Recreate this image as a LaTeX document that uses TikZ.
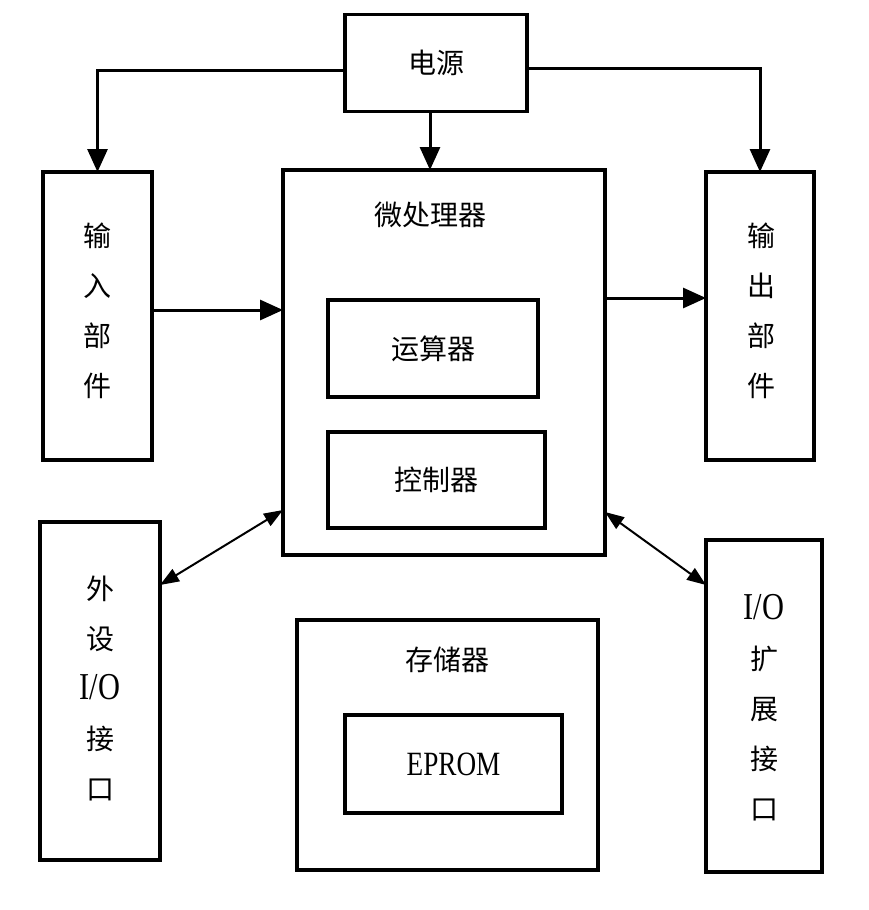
\documentclass[tikz,border=0pt]{standalone}
\usepackage{fontspec}
\setmainfont{Liberation Serif}
\newfontfamily\cjk{Noto Sans CJK SC}
\newfontfamily\lat[FakeStretch=0.8]{Liberation Serif}
\usetikzlibrary{arrows.meta}
\begin{document}
\begin{tikzpicture}[x=1pt,y=-1pt,
  box/.style={draw, line width=3.5pt, inner sep=0pt, outer sep=0pt},
  lbl/.style={font=\cjk\fontsize{28}{50}\selectfont, align=center},
  arr/.style={line width=3pt, -{Triangle[length=23pt,width=20pt]}},
  darr/.style={line width=2pt, {Triangle[length=19pt,width=14pt]}-{Triangle[length=19pt,width=14pt]}}]
\useasboundingbox (0,0) rectangle (868,910);
% boxes
\node[box, minimum width=182pt, minimum height=97pt] (power) at (436,63) {};
\node[lbl] (powerl) at (power.center) {电源};
\node[box, minimum width=109pt, minimum height=288pt] (in) at (97.5,316) {};
\node[lbl] (inl) at (97.5,311) {输\\入\\部\\件};
\node[box, minimum width=322pt, minimum height=385pt] (cpu) at (444,362.5) {};
\node[lbl] (cpul) at (430,215) {微处理器};
\node[box, minimum width=210pt, minimum height=97pt] (alu) at (433,348.5) {};
\node[lbl] (alul) at (alu.center) {运算器};
\node[box, minimum width=217pt, minimum height=96pt] (ctl) at (436.5,480) {};
\node[lbl] (ctll) at (ctl.center) {控制器};
\node[box, minimum width=108pt, minimum height=288pt] (out) at (760,316) {};
\node[lbl] (outl) at (761,311) {输\\出\\部\\件};
\node[box, minimum width=120pt, minimum height=338pt] (io1) at (100,691) {};
\node[lbl] (io1l) at (100,688) {外\\设\\{\lat\fontsize{38}{50}\selectfont I/O}\\接\\口};
\node[box, minimum width=301pt, minimum height=250pt] (mem) at (447.5,745) {};
\node[lbl] (meml) at (447,660) {存储器};
\node[box, minimum width=217pt, minimum height=98pt] (rom) at (453.5,764) {};
\node[font=\lat\fontsize{34}{40}\selectfont] (roml) at (rom.center) {EPROM};
\node[box, minimum width=116pt, minimum height=332pt] (io2) at (764,706) {};
\node[lbl] (io2l) at (764,708) {{\lat\fontsize{38}{50}\selectfont I/O}\\扩\\展\\接\\口};
% connectors
\draw[arr] ([yshift=-7pt]power.west) -- ([yshift=-7pt]power.west -| in.north) -- (in.north);
\draw[arr] ([yshift=-5pt]power.east) -- ([yshift=-5pt]power.east -| out.north) -- (out.north);
\draw[arr] (power.south -| cpul) -- (cpu.north -| cpul);
\draw[arr] ([yshift=6pt]in.east) -- ([yshift=6pt]in.east -| cpu.west);
\draw[arr] ([yshift=18pt]out.west -| cpu.east) -- ([yshift=18pt]out.west);
\draw[darr] ([yshift=-63pt]io1.north east) -- ([yshift=45pt]cpu.south west);
\draw[darr] ([yshift=43pt]cpu.south east) -- ([yshift=-45pt]io2.north west);
\end{tikzpicture}
\end{document}
